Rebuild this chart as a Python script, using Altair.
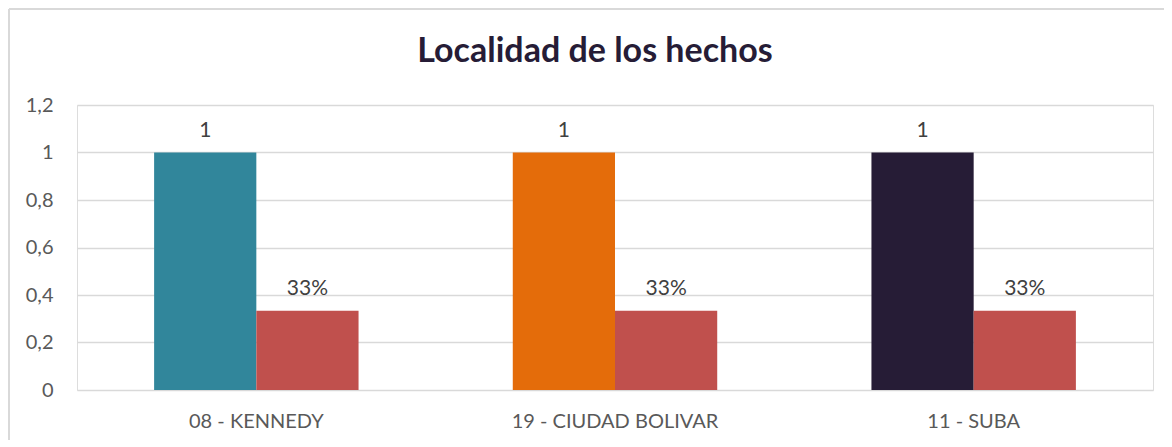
import altair as alt
import pandas as pd

localidades = ["08 - KENNEDY", "19 - CIUDAD BOLIVAR", "11 - SUBA"]
cantidad = [1, 1, 1]
porcentaje = [0.3333, 0.3333, 0.3333]
etiquetas_cantidad = ["1", "1", "1"]
etiquetas_porcentaje = ["33%", "33%", "33%"]
colores_localidad = ["#31869B", "#E46C0A", "#261C36"]
color_porcentaje = "#C0504D"
titulo = "Localidad de los hechos"

rows = []
for i, loc in enumerate(localidades):
    rows.append({"localidad": loc, "serie": "a_cantidad", "valor": cantidad[i],
                 "etiqueta": etiquetas_cantidad[i], "ckey": loc})
    rows.append({"localidad": loc, "serie": "b_porcentaje", "valor": porcentaje[i],
                 "etiqueta": etiquetas_porcentaje[i], "ckey": "pct"})
df = pd.DataFrame(rows)

FONT = "Lato"
W, H = 1076, 285

x = alt.X("localidad:N", sort=localidades, title=None,
          scale=alt.Scale(paddingInner=0.43, paddingOuter=0.215),
          axis=alt.Axis(labelFont=FONT, labelFontSize=20, labelColor="#595959",
                        labelPadding=21, labelLimit=0, ticks=False, domain=False,
                        labelAngle=0))
y = alt.Y("valor:Q", title=None,
          scale=alt.Scale(domain=[0, 1.2], nice=False),
          axis=alt.Axis(values=[0, 0.2, 0.4, 0.6, 0.8, 1.0, 1.2],
                        labelExpr="replace(format(datum.value, '.1~f'), '.', ',')",
                        labelFont=FONT, labelFontSize=20, labelColor="#595959",
                        labelPadding=24, ticks=False, domain=False,
                        grid=True, gridColor="#D9D9D9", gridWidth=1.5))

base = alt.Chart(df).encode(
    x=x,
    xOffset=alt.XOffset("serie:N", sort=["a_cantidad", "b_porcentaje"]),
)

bars = base.mark_bar().encode(
    y=y,
    color=alt.Color("ckey:N",
                    scale=alt.Scale(domain=localidades + ["pct"],
                                    range=colores_localidad + [color_porcentaje]),
                    legend=None),
)

labels = base.mark_text(baseline="bottom", dy=-12, font=FONT, fontSize=21,
                        color="#404040").encode(
    y=alt.Y("valor:Q"),
    text="etiqueta:N",
)

one = pd.DataFrame({"t": [titulo]})
title_mark = alt.Chart(one).mark_text(
    font=FONT, fontSize=34, fontWeight="bold", color="#261C36",
    baseline="alphabetic", align="center").encode(
    x=alt.value(518), y=alt.value(-43), text="t:N")

border_left = alt.Chart(one).mark_rule(
    color="#D9D9D9", strokeWidth=2).encode(
    x=alt.value(-68), y=alt.value(-96), y2=alt.value(H + 60))
border_top = alt.Chart(one).mark_rule(
    color="#D9D9D9", strokeWidth=2).encode(
    y=alt.value(-96), x=alt.value(-68), x2=alt.value(W + 30))

chart = alt.layer(border_left, border_top, title_mark, bars, labels).properties(
    width=W, height=H,
    autosize=alt.AutoSizeParams(type="none"),
    padding={"left": 69, "top": 97, "right": 11, "bottom": 50},
).configure_view(stroke=None).configure(background="white")

chart.save("out.html", embed_options={"renderer": "svg", "actions": False})
